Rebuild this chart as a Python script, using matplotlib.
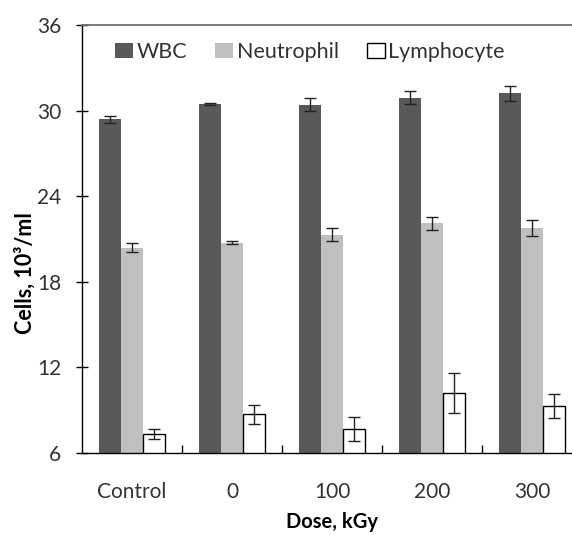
import matplotlib.pyplot as plt
import numpy as np
from matplotlib.patches import Patch

plt.rcParams["font.family"] = ["Lato", "DejaVu Sans"]

categories = ["Control", "0", "100", "200", "300"]
wbc = [29.4, 30.45, 30.4, 30.9, 31.2]
wbc_err = [0.25, 0.07, 0.45, 0.45, 0.55]
neutrophil = [20.4, 20.75, 21.3, 22.1, 21.75]
neutrophil_err = [0.3, 0.08, 0.45, 0.45, 0.55]
lymphocyte = [7.3, 8.7, 7.7, 10.2, 9.3]
lymphocyte_err = [0.35, 0.65, 0.85, 1.4, 0.85]
y_ticks = [6, 12, 18, 24, 30, 36]

fig = plt.figure(figsize=(5.72, 5.35), dpi=100)
# the original image is cropped at the right, so the axes run past the edge
ax = fig.add_axes([82 / 572, 82 / 535, 500 / 572, 428 / 535])

x = np.arange(1, len(categories) + 1)
w = 0.22
err_kw = dict(ecolor="#222222", elinewidth=1, capsize=4, capthick=1)
ax.bar(x - w, wbc, w, yerr=wbc_err, color="#595959", label="WBC", error_kw=err_kw)
ax.bar(x, neutrophil, w, yerr=neutrophil_err, color="#bfbfbf", label="Neutrophil", error_kw=err_kw)
ax.bar(x + w, lymphocyte, w, yerr=lymphocyte_err, color="white", edgecolor="black",
       linewidth=1, label="Lymphocyte", error_kw=err_kw)

fs = 15
ax.set_xlim(0.5, 5.5)
ax.set_ylim(6, 36)
ax.set_yticks(y_ticks)
ax.tick_params(axis="y", direction="inout", length=9, width=1, labelsize=fs,
               labelcolor="#333333", pad=10.5)

# group separators on the bottom axis, category names between them
ax.set_xticks(list(x[:-1] + 0.5) + [5.5])
ax.set_xticklabels([])
ax.tick_params(axis="x", which="major", direction="in", length=6, width=1)
ax.set_xticks(x, minor=True)
ax.set_xticklabels(categories, minor=True)
ax.tick_params(axis="x", which="minor", length=0, labelsize=fs,
               labelcolor="#333333", pad=21)

ax.spines["right"].set_visible(False)
ax.spines["top"].set_color("#707070")
ax.spines["top"].set_linewidth(1.3)
for side in ["left", "bottom"]:
    ax.spines[side].set_color("black")
    ax.spines[side].set_linewidth(1)

ax.set_ylabel("Cells, 10\u00b3/ml", fontsize=15.5, fontweight="bold")
ax.yaxis.set_label_coords(-0.092, 0.42)
ax.set_xlabel("Dose, kGy", fontsize=14.5, fontweight="bold")
ax.xaxis.set_label_coords(0.5, -0.161)
ax.xaxis.label.set_verticalalignment("center")

handles = [
    Patch(facecolor="#595959", edgecolor="none"),
    Patch(facecolor="#bfbfbf", edgecolor="none"),
    Patch(facecolor="white", edgecolor="black", linewidth=1),
]
leg = ax.legend(handles, ["WBC", "Neutrophil", "Lymphocyte"], ncol=3, frameon=False,
                loc="center left", bbox_to_anchor=(0.066, 0.937), fontsize=15.5,
                borderpad=0, borderaxespad=0,
                handlelength=0.85, handleheight=0.65, handletextpad=0.15,
                columnspacing=1.3)
for t in leg.get_texts():
    t.set_color("#333333")

fig.savefig("out.png", dpi=100)
